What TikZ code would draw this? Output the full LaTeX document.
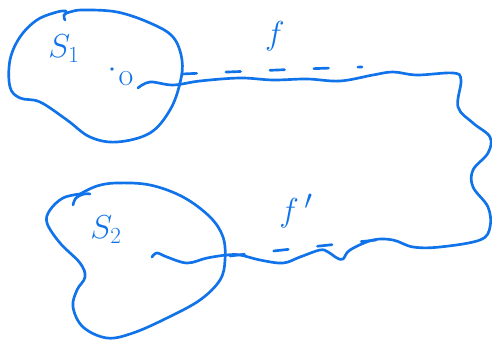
\documentclass[tikz,border=0pt]{standalone}
\begin{document}
\begin{tikzpicture}[x=0.75pt,y=-0.75pt,
  ink/.style={draw=inkblue,line width=2pt,line cap=round,line join=round},
  dashink/.style={ink,dash pattern=on 11 off 22},
  lbl/.style={text=inkblue,inner sep=0pt,font=\fontsize{25}{30}\selectfont}]
\definecolor{inkblue}{HTML}{1173EA}
\useasboundingbox (0,0) rectangle (492,341);
% blob S1
\draw[ink] plot[smooth,tension=0.6] coordinates {(65,20) (64,15) (70,12) (83,10) (117,12) (150,23) (173,37) (182,60) (180,83) (170,110) (150,133) (117,142) (90,137) (67,120) (40,102) (20,98) (10,87) (10,60) (20,37) (37,20) (57,12) (66,11)};
% blob S2
\draw[ink] plot[smooth,tension=0.6] coordinates {(73,205) (76,198) (84,194) (90,194)};
\draw[ink] plot[smooth,tension=0.6] coordinates {(80,194) (97,186) (117,183) (150,185) (183,197) (210,217) (223,237) (225,260) (220,280) (200,300) (167,318) (133,333) (107,338) (83,327) (73,307) (77,290) (85,277) (80,263) (60,243) (47,223) (50,210) (63,198) (80,194)};
% long wavy path
\draw[ink] plot[smooth,tension=0.6] coordinates {(138,88) (150,82) (173,85) (200,81) (240,78) (273,80) (307,79) (340,81) (373,75) (393,72) (417,75) (453,73) (461,80) (458,107) (473,123) (490,137) (488,153) (473,170) (473,187) (488,207) (490,227) (480,240) (440,247) (413,247) (393,240) (373,240) (350,250) (343,259) (337,258) (328,252) (320,250) (300,257) (283,263) (260,260) (240,255) (227,255) (207,258) (187,263) (167,257) (157,253) (152,257)};
% dashed lines
\coordinate (d1a) at (182,74);
\coordinate (d1b) at (362,67);
\coordinate (d2a) at (230,256);
\coordinate (d2b) at (376,240);
\draw[dashink] (d1a) .. controls (250,71) and (300,69) .. (d1b);
\draw[dashink] (d2a) .. controls (280,250) and (330,245) .. (d2b);
% point o
\node[circle,fill=inkblue,inner sep=1pt] (dot) at (112,69) {};
\node[lbl,font=\fontsize{24}{28}\selectfont] (o) at (126,79) {o};
% labels
\node[lbl] (s1) at (64,49) {$S_1$};
\node[lbl] (s2) at (106,230) {$S_2$};
\node[lbl,font=\fontsize{28}{32}\selectfont] (f) at (275,36) {$f$};
\node[lbl,font=\fontsize{28}{32}\selectfont] (fp) at (296,211) {$f\,'$};
\end{tikzpicture}
\end{document}
